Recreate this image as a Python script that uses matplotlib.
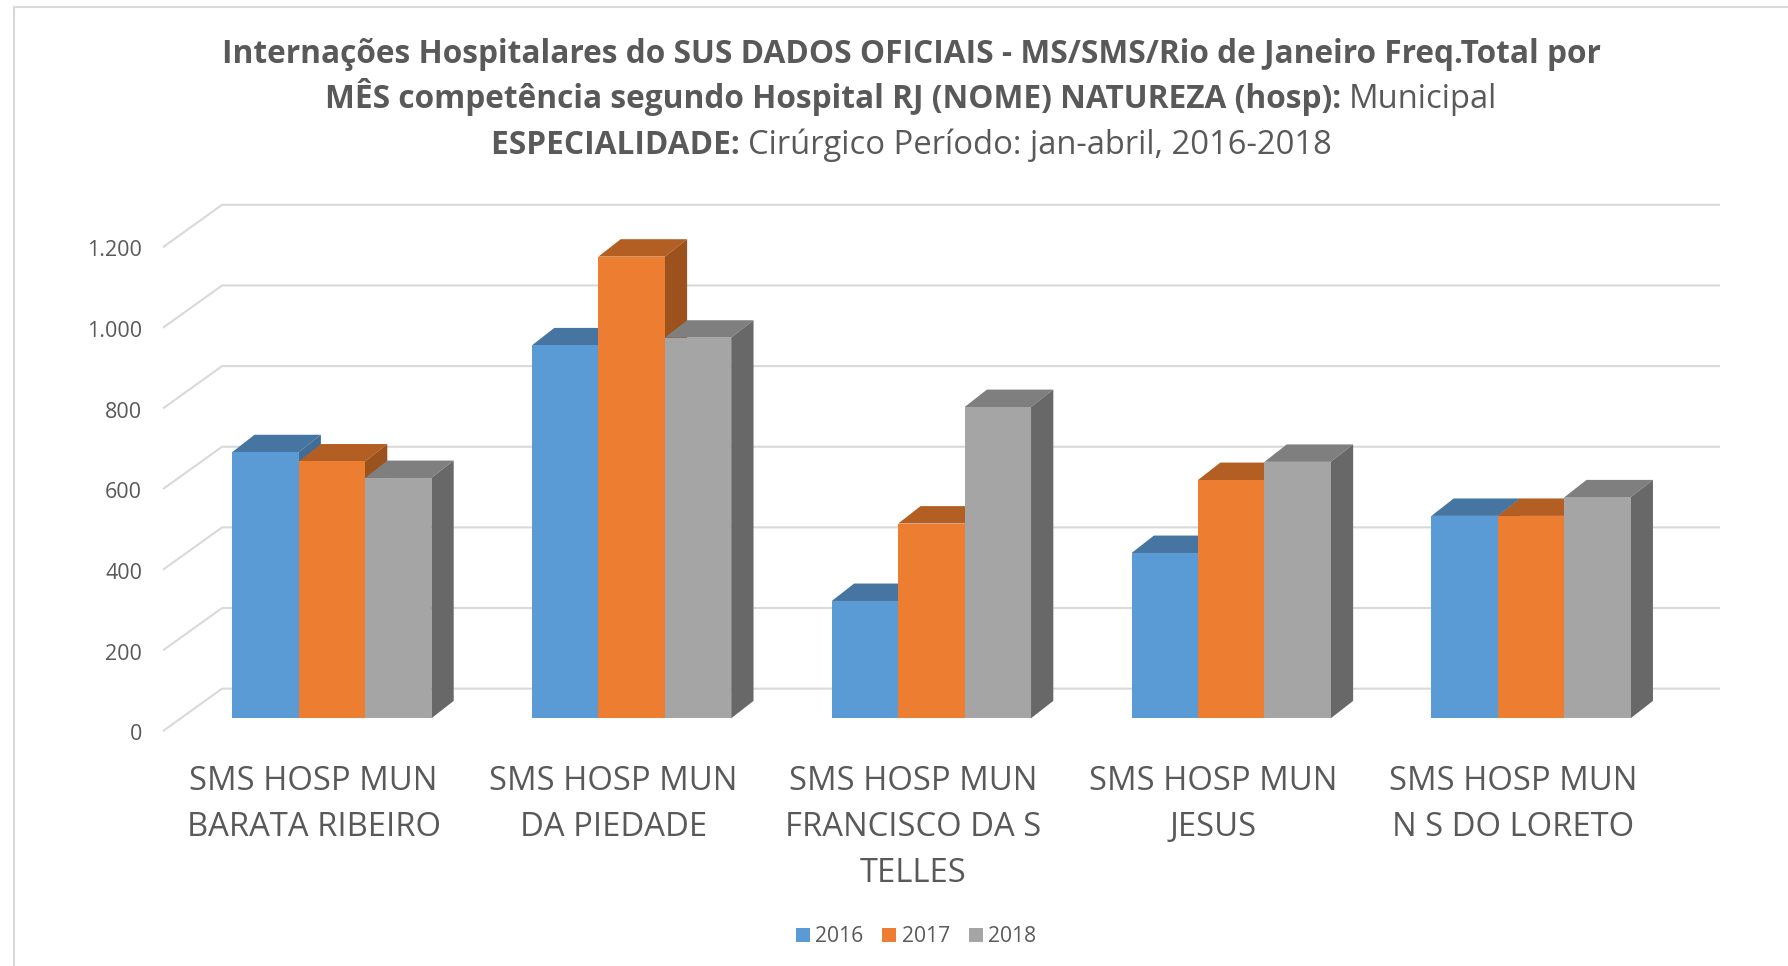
import matplotlib
matplotlib.use("Agg")
import matplotlib.pyplot as plt
from matplotlib.lines import Line2D
from matplotlib.patches import Patch
from matplotlib.transforms import ScaledTranslation

hospitals = [
    "SMS HOSP MUN\nBARATA RIBEIRO",
    "SMS HOSP MUN\nDA PIEDADE",
    "SMS HOSP MUN\nFRANCISCO DA S\nTELLES",
    "SMS HOSP MUN\nJESUS",
    "SMS HOSP MUN\nN S DO LORETO",
]
years = ["2016", "2017", "2018"]
v2016 = [660, 925, 291, 410, 502]
v2017 = [637, 1145, 483, 591, 502]
v2018 = [596, 944, 772, 636, 548]
y_ticks = [0, 200, 400, 600, 800, 1000, 1200]
y_labels = ["0", "200", "400", "600", "800", "1.000", "1.200"]

front_colors = ["#5B9BD5", "#ED7D31", "#A5A5A5"]
top_colors = ["#4575A0", "#B35E22", "#7F7F7F"]
side_colors = ["#3F6D97", "#9C521C", "#686868"]
text_color = "#595959"
grid_color = "#D9D9D9"

W, H = 1788, 966
plt.rcParams["font.family"] = ["Open Sans", "DejaVu Sans"]
fig = plt.figure(figsize=(W / 100, H / 100), dpi=100)

# outer chart border (left and top only are visible in the crop)
fig.add_artist(Line2D([14 / W, 14 / W, 1], [0, 1 - 7 / H, 1 - 7 / H], color=grid_color, lw=1.5))

ax = fig.add_axes([163 / W, 1 - 731 / H, (1720 - 163) / W, (731 - 204.8) / H])
ax.set_xlim(-0.5023, 4.691)
ax.set_ylim(0, 1305)
for s in ax.spines.values():
    s.set_visible(False)

# fake 3d depth, in data units
wall_lift = 105
bar_lift = 31.5
bar_w = 0.2215
bar_shift = 0.0607
depth_x = 0.0744
depth_y = 43.2

xl = ax.get_xlim()
for t in y_ticks:
    ax.plot([xl[0], xl[0] + 0.197, xl[1]], [t, t + wall_lift, t + wall_lift],
            color=grid_color, lw=1.5, zorder=1, clip_on=False, solid_capstyle="butt")

z = 2
for s, vals in enumerate([v2016, v2017, v2018]):
    for i, v in enumerate(vals):
        left = i + bar_shift + (s - 1.5) * bar_w
        right = left + bar_w
        top = v + bar_lift
        ax.fill([left, right, right + depth_x, left + depth_x],
                [top, top, top + depth_y, top + depth_y],
                color=top_colors[s], lw=0, zorder=z)
        ax.fill([right, right + depth_x, right + depth_x, right],
                [bar_lift, bar_lift + depth_y, top + depth_y, top],
                color=side_colors[s], lw=0, zorder=z)
    ax.bar([i + bar_shift + (s - 1) * bar_w for i in range(5)], vals, bar_w,
           bottom=bar_lift, color=front_colors[s], lw=0, zorder=z + 1)
    z += 2

ax.set_xticks(range(5))
ax.set_xticklabels(hospitals, fontsize=23.55, color=text_color, linespacing=1.51)
ax.set_yticks(y_ticks)
ax.set_yticklabels(y_labels, fontsize=15.5, color=text_color)
ax.tick_params(axis="x", length=0, pad=24.5)
ax.tick_params(axis="y", length=0, pad=15)
for lab in ax.get_yticklabels():
    lab.set_transform(lab.get_transform() + ScaledTranslation(0, -0.012, fig.dpi_scale_trans))

handles = [Patch(color=c, lw=0) for c in front_colors]
fig.legend(handles, years, ncol=3, loc="center", bbox_to_anchor=(916 / W, 1 - 937 / H),
           frameon=False, fontsize=15.2, labelcolor=text_color, handlelength=0.67,
           handleheight=0.67, handletextpad=0.24, columnspacing=0.9, borderpad=0)

# title lines mix bold and regular, so place the pieces by measured width
title_lines = [
    (63, [("Internações Hospitalares do SUS DADOS OFICIAIS - MS/SMS/Rio de Janeiro Freq.Total por", "bold")]),
    (107.5, [("MÊS competência segundo Hospital RJ (NOME) NATUREZA (hosp): ", "bold"), ("Municipal", "normal")]),
    (154, [("ESPECIALIDADE: ", "bold"), ("Cirúrgico Período: jan-abril, 2016-2018", "normal")]),
]
sizes = {"bold": 22.8, "normal": 23.6}
r = fig.canvas.get_renderer()
for y, pieces in title_lines:
    texts = [fig.text(0, 1 - y / H, p, fontsize=sizes[w], weight=w, color=text_color, va="baseline")
             for p, w in pieces]
    widths = [t.get_window_extent(r).width for t in texts]
    x = (911 - sum(widths) / 2)
    for t, w in zip(texts, widths):
        t.set_x(x / W)
        x += w

fig.savefig("out.png", dpi=100, facecolor="white")
